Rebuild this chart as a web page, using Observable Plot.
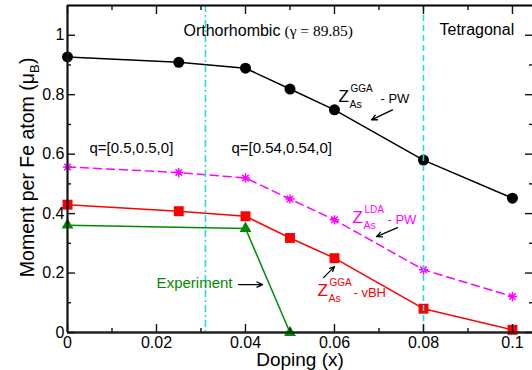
<!DOCTYPE html>
<html><head><meta charset="utf-8">
<script src="https://cdn.jsdelivr.net/npm/d3@7"></script>
<script src="https://cdn.jsdelivr.net/npm/@observablehq/plot@0.6"></script>
<style>
html,body{margin:0;padding:0;background:#fff;}
</style></head><body><div id="chart"></div>
<script>
// ---- data ----
const doping = [0, 0.025, 0.04, 0.05, 0.06, 0.08, 0.1];
const ggaPW  = [0.927, 0.909, 0.889, 0.819, 0.749, 0.580, 0.452];
const ldaPW  = [0.557, 0.538, 0.520, 0.449, 0.379, 0.211, 0.121];
const ggaVBH = [0.430, 0.408, 0.391, 0.318, 0.250, 0.080, 0.009];
const expDoping = [0, 0.04, 0.05];
const expMoment = [0.361, 0.350, 0];
const orthoBoundary = [0.031];
const tetraBoundary = [0.08];
const xMajor = [0, 0.02, 0.04, 0.06, 0.08, 0.1];
const xMinor = [0.01, 0.03, 0.05, 0.07, 0.09];
const yMajor = [0, 0.2, 0.4, 0.6, 0.8, 1];
const yMinor = [0.1, 0.3, 0.5, 0.7, 0.9];
const xDomain = [0, 0.1045];
const yDomain = [0, 1.1];

const rows = (xs, ys) => xs.map((x, i) => ({x, y: ys[i]}));
const black = rows(doping, ggaPW);
const magenta = rows(doping, ldaPW);
const red = rows(doping, ggaVBH);
const green = rows(expDoping, expMoment);

const sans = "'Liberation Sans', Arial, Helvetica, sans-serif";
const serif = "'Liberation Serif', 'Times New Roman', serif";
const MAG = "#ff00ff", RED = "#ff0000", GRN = "#008b00", CYAN = "#1fdde6";

const star = {
  draw(context, size) {
    const r = Math.sqrt(size / Math.PI);
    const d = r * Math.SQRT1_2;
    context.moveTo(-r, 0); context.lineTo(r, 0);
    context.moveTo(0, -r); context.lineTo(0, r);
    context.moveTo(-d, -d); context.lineTo(d, d);
    context.moveTo(-d, d); context.lineTo(d, -d);
  }
};

const fmt = d => String(d);
const none = () => "";
const tickStyle = {stroke: "#111", strokeWidth: 1.4, label: null};

function zLabel(x, y, color, sup, tail, tailDx) {
  const base = {fill: color, textAnchor: "start", lineAnchor: "bottom", fontFamily: sans};
  return [
    Plot.text(["Z"], {...base, x, y, text: d => d, fontSize: 17}),
    Plot.text([sup], {...base, x, y, text: d => d, fontSize: 10, dx: 12, dy: -10}),
    Plot.text(["As"], {...base, x, y, text: d => d, fontSize: 10.5, dx: 11, dy: 6}),
    Plot.text([tail], {...base, x, y, text: d => d, fontSize: 13, dx: tailDx, dy: 1})
  ];
}
const arrow = (x1, y1, x2, y2) =>
  Plot.arrow([0], {x1, y1, x2, y2, stroke: "black", strokeWidth: 1.3, headLength: 7, headAngle: 50});

const chart = Plot.plot({
  width: 532, height: 370,
  marginLeft: 67, marginRight: 0, marginTop: 5, marginBottom: 38,
  x: {domain: xDomain},
  y: {domain: yDomain},
  style: {fontFamily: sans, background: "white", color: "black"},
  marks: [
    // series
    Plot.line(black, {x: "x", y: "y", stroke: "black", strokeWidth: 1.5}),
    Plot.dot(black, {x: "x", y: "y", r: 5.5, fill: "black", symbol: "circle"}),
    Plot.line(magenta, {x: "x", y: "y", stroke: MAG, strokeWidth: 1.5, strokeDasharray: "8,5"}),
    Plot.dot(magenta, {x: "x", y: "y", r: 4.6, symbol: star, fill: "none", stroke: MAG, strokeWidth: 1.5}),
    Plot.line(red, {x: "x", y: "y", stroke: RED, strokeWidth: 1.5}),
    Plot.dot(red, {x: "x", y: "y", r: 5.6, symbol: "square", fill: RED}),
    Plot.line(green, {x: "x", y: "y", stroke: GRN, strokeWidth: 1.5}),
    Plot.dot(green, {x: "x", y: "y", r: 4.4, symbol: "triangle", fill: GRN}),
    // phase boundaries
    Plot.ruleX(orthoBoundary, {stroke: CYAN, strokeWidth: 1.6, strokeDasharray: "7,3,2,3"}),
    Plot.ruleX(tetraBoundary, {stroke: CYAN, strokeWidth: 1.6, strokeDasharray: "6,4"}),
    // frame
    Plot.ruleY([yDomain[1]], {stroke: "black", strokeWidth: 2}),
    Plot.ruleX([xDomain[0]], {stroke: "#111", strokeWidth: 2.2}),
    Plot.ruleY([yDomain[0]], {stroke: "#222", strokeWidth: 2.6}),
    // axes: labels
    Plot.axisX(xMajor, {anchor: "bottom", tickSize: 0, tickPadding: 4, tickFormat: fmt, fontSize: 16, label: null}),
    Plot.axisY(yMajor, {anchor: "left", tickSize: 0, tickPadding: 3, tickFormat: fmt, fontSize: 16, label: null}),
    // axes: inward ticks
    Plot.axisX(xMajor, {anchor: "bottom", tickSize: -8, tickFormat: none, ...tickStyle}),
    Plot.axisX(xMinor, {anchor: "bottom", tickSize: -4, tickFormat: none, ...tickStyle}),
    Plot.axisX(xMajor, {anchor: "top", tickSize: -8, tickFormat: none, ...tickStyle}),
    Plot.axisX(xMinor, {anchor: "top", tickSize: -4, tickFormat: none, ...tickStyle}),
    Plot.axisY(yMajor, {anchor: "left", tickSize: -8, tickFormat: none, ...tickStyle}),
    Plot.axisY(yMinor, {anchor: "left", tickSize: -4, tickFormat: none, ...tickStyle}),
    Plot.axisY(yMajor, {anchor: "right", tickSize: -8, tickFormat: none, ...tickStyle}),
    Plot.axisY(yMinor, {anchor: "right", tickSize: -4, tickFormat: none, ...tickStyle}),
    // axis titles
    Plot.text(["Doping (x)"], {frameAnchor: "bottom", text: d => d, lineAnchor: "bottom", dy: 33.5, fontSize: 19, fontFamily: sans}),
    Plot.text(["Moment per Fe atom (μ"], {frameAnchor: "left", text: d => d, rotate: -90, textAnchor: "end", lineAnchor: "bottom", dx: -34, dy: -96, fontSize: 19.5, fontFamily: sans}),
    Plot.text(["B"], {frameAnchor: "left", text: d => d, rotate: -90, textAnchor: "start", lineAnchor: "bottom", dx: -29, dy: -96, fontSize: 13, fontFamily: sans}),
    Plot.text([")"], {frameAnchor: "left", text: d => d, rotate: -90, textAnchor: "start", lineAnchor: "bottom", dx: -34, dy: -105, fontSize: 19.5, fontFamily: sans}),
    // phase labels
    Plot.text(["Orthorhombic"], {x: 0.02607, y: 0.9977, text: d => d, textAnchor: "start", lineAnchor: "bottom", fontSize: 16, fontFamily: sans}),
    Plot.text(["(γ = 89.85)"], {x: 0.04876, y: 0.9977, text: d => d, textAnchor: "start", lineAnchor: "bottom", fontSize: 15.5, fontFamily: serif}),
    Plot.text(["Tetragonal"], {x: 0.0836, y: 1.001, text: d => d, textAnchor: "start", lineAnchor: "bottom", fontSize: 16, fontFamily: sans}),
    Plot.text(["q=[0.5,0.5,0]"], {x: 0.00494, y: 0.6046, text: d => d, textAnchor: "start", lineAnchor: "bottom", fontSize: 15, fontFamily: sans}),
    Plot.text(["q=[0.54,0.54,0]"], {x: 0.03685, y: 0.6046, text: d => d, textAnchor: "start", lineAnchor: "bottom", fontSize: 15, fontFamily: sans}),
    // series labels
    ...zLabel(0.0609, 0.776, "black", "GGA", "- PW", 42),
    ...zLabel(0.06404, 0.3695, MAG, "LDA", "- PW", 35),
    ...zLabel(0.05618, 0.1243, RED, "GGA", "- vBH", 36),
    Plot.text(["Experiment"], {x: 0.03708, y: 0.1646, text: d => d, textAnchor: "end", fontSize: 15, fill: GRN, fontFamily: sans}),
    arrow(0.07303, 0.749, 0.06831, 0.7155),
    arrow(0.07416, 0.3527, 0.06944, 0.3225),
    arrow(0.05753, 0.1847, 0.0600, 0.2217),
    arrow(0.03843, 0.1612, 0.04382, 0.1612)
  ]
});
document.getElementById("chart").appendChild(chart);
</script>
</body></html>
